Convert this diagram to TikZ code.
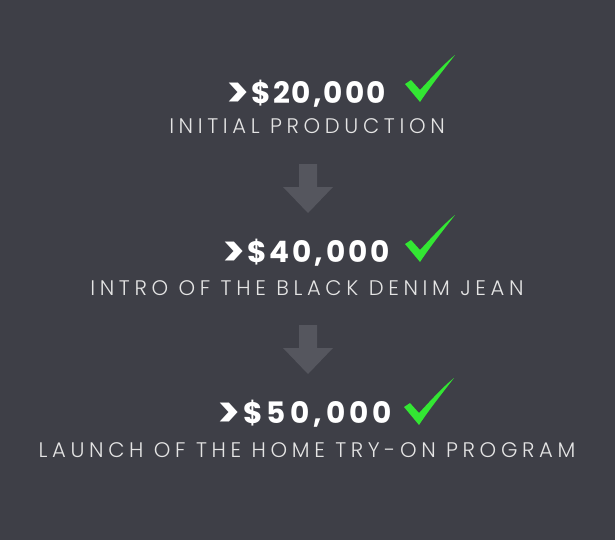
\documentclass[tikz,border=0pt]{standalone}
\usepackage{fontspec}
\setmainfont{Poppins}
\newfontfamily\amountfont{Poppins}[LetterSpace=7]
\newfontfamily\amountmid{Poppins}[LetterSpace=10]
\newfontfamily\amountwide{Poppins}[LetterSpace=14]
\newfontfamily\lightfont{Poppins Light}[LetterSpace=22]
\usetikzlibrary{positioning}

\definecolor{bgdark}{HTML}{3E3F47}
\definecolor{arrowgray}{HTML}{55565E}
\definecolor{checkgreen}{HTML}{33E633}
\definecolor{stagegray}{HTML}{E4E4E4}

\newcommand{\gtmark}{\raisebox{-3pt}{\scalebox{1.45}{>}}\kern1.5pt}

\tikzset{
  amount/.style={anchor=base, inner sep=0pt, text=white,
    font=\fontsize{21}{21}\selectfont\amountfont\bfseries},
  stage/.style={anchor=base, inner sep=0pt, text=stagegray,
    font=\fontsize{15}{15}\selectfont\lightfont},
  pics/checkmark/.style={code={
    \fill[checkgreen] (0,29) -- (6,25) -- (15,35)
      .. controls (27,22) and (40,8) .. (50,0)
      .. controls (36,18) and (25,32) .. (15,47) -- cycle;
  }},
  pics/downarrow/.style={code={
    \fill[arrowgray] (-9,0) -- (9,0) -- (9,23) -- (25,23) -- (0,49)
      -- (-25,23) -- (-9,23) -- cycle;
  }}
}

\begin{document}
\begin{tikzpicture}[x=0.025cm, y=-0.025cm]
    \fill[bgdark] (0,0) rectangle (615,540);
    \useasboundingbox (0,0) rectangle (615,540);
    % first stage
    \node[amount] (amt1) at (306,103) {\gtmark\$20,000};
    \pic at (405,55) {checkmark};
    \node[stage] (lbl1) at (307,133) {INITIAL PRODUCTION};
    \pic at (308,164) {downarrow};
    % second stage
    \node[amount, font=\fontsize{21}{21}\selectfont\amountmid\bfseries]
      (amt2) at (306,262) {\gtmark\$40,000};
    \pic at (405,215) {checkmark};
    \node[stage] (lbl2) at (307,295) {INTRO OF THE BLACK DENIM JEAN};
    \pic at (308,325) {downarrow};
    % third stage
    \node[amount, font=\fontsize{21}{21}\selectfont\amountwide\bfseries]
      (amt3) at (305,423) {\gtmark\$50,000};
    \pic at (404,378) {checkmark};
    \node[stage] (lbl3) at (307,457) {LAUNCH OF THE HOME TRY-ON PROGRAM};
  \end{tikzpicture}
\end{document}
